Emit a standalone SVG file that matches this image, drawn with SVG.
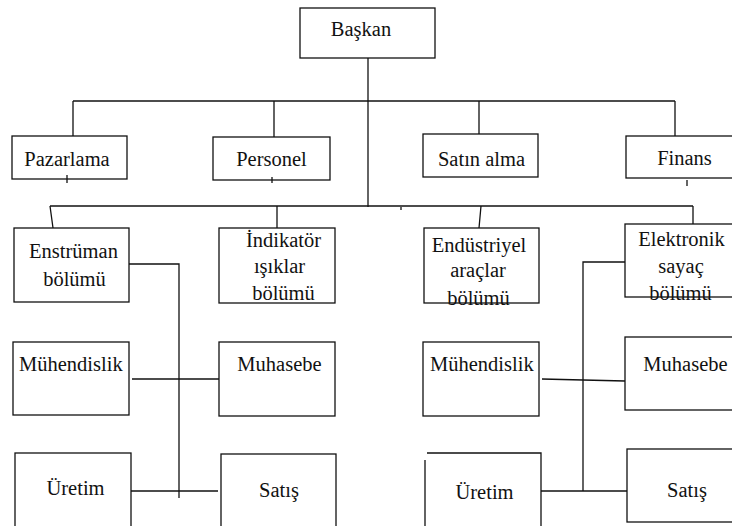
<svg xmlns="http://www.w3.org/2000/svg" width="732" height="526" viewBox="0 0 732 526">
<style>
.box{fill:#fff;stroke:#111;stroke-width:1.3}
.ln{fill:none;stroke:#111;stroke-width:1.3}
text{font-family:'Liberation Serif','Times New Roman','DejaVu Serif',serif;font-size:20.5px;fill:#111;text-anchor:middle}
.st{text-anchor:start}
</style>
<rect width="732" height="526" fill="#fff"/>
<g id="connectors" class="ln">
<path d="M368,58 V207"/>
<path d="M73,101 H675"/>
<path d="M73,101 V136 M274,101 V137 M479,101 V134 M675,101 V136"/>
<path d="M50,206 H693"/>
<path d="M50,206 L53,228 M277,206 V228 M481,206 L479,228 M693,206 V224"/>
<path d="M401,207 V210"/>
<path d="M129,264 H179 V498"/>
<path d="M132,379 H219"/>
<path d="M131,491 H218"/>
<path d="M628,262 H583 V491"/>
<path d="M542,379 L583,380 L625,381"/>
<path d="M541,491 H630"/>
</g>
<g font-family="Liberation Serif, Times New Roman, DejaVu Serif, serif">
<g id="baskan"><rect class="box" x="300" y="8" width="135" height="50"/><text x="361" y="36">Başkan</text></g>
<g id="pazarlama"><rect class="box" x="12" y="136" width="115" height="43"/><text x="67" y="166">Pazarlama</text><path class="ln" d="M67,175 V183"/></g>
<g id="personel"><rect class="box" x="213" y="137" width="117" height="43"/><text x="271.5" y="166">Personel</text><path class="ln" d="M272,177 V183"/></g>
<g id="satinalma"><rect class="box" x="423" y="134" width="115" height="43"/><text x="481.5" y="166">Satın alma</text></g>
<g id="finans"><rect class="box" x="626" y="136" width="114" height="42"/><text x="684.5" y="165">Finans</text><path class="ln" d="M687,180 V186"/></g>
<g id="enstruman"><rect class="box" x="14" y="228" width="115" height="74"/><text x="73.5" y="258">Enstrüman</text><text x="74.5" y="286">bölümü</text></g>
<g id="indikator"><rect class="box" x="219" y="228" width="116" height="75"/><text x="283.5" y="247">İndikatör</text><text x="279.5" y="273">ışıklar</text><text x="283.5" y="300">bölümü</text></g>
<g id="endustriyel"><rect class="box" x="424" y="228" width="115" height="75"/><text x="479" y="252">Endüstriyel</text><text x="478" y="277">araçlar</text><text x="478.5" y="305">bölümü</text></g>
<g id="elektronik"><rect class="box" x="625" y="224" width="115" height="73"/><text x="681.5" y="246">Elektronik</text><text x="681" y="273">sayaç</text><text x="680.5" y="300">bölümü</text></g>
<g id="muhendislik-l"><rect class="box" x="13" y="342" width="116" height="73"/><text class="st" x="19" y="371">Mühendislik</text></g>
<g id="muhasebe-l"><rect class="box" x="219" y="342" width="116" height="74"/><text x="279.5" y="371">Muhasebe</text></g>
<g id="uretim-l"><rect class="box" x="15" y="453" width="116" height="90"/><text x="75.5" y="495">Üretim</text></g>
<g id="satis-l"><rect class="box" x="221" y="454" width="115" height="90"/><text x="279" y="497">Satış</text></g>
<g id="muhendislik-r"><rect class="box" x="423" y="342" width="116" height="74"/><text class="st" x="430" y="371">Mühendislik</text></g>
<g id="muhasebe-r"><rect class="box" x="625" y="337" width="115" height="73"/><text x="685.5" y="371">Muhasebe</text></g>
<g id="uretim-r"><path class="ln" d="M427,453 H541 V540 M425,460 V540"/><text x="484.5" y="499">Üretim</text></g>
<g id="satis-r"><rect class="box" x="627" y="449" width="113" height="73"/><text x="687" y="497">Satış</text></g>
</g>
</svg>
